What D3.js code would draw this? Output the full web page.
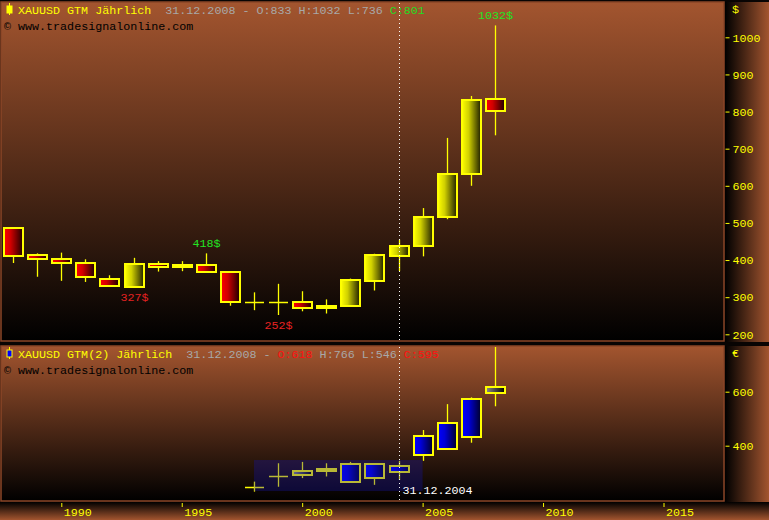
<!DOCTYPE html>
<html><head><meta charset="utf-8">
<script src="https://cdn.jsdelivr.net/npm/d3@7"></script>
<style>html,body{margin:0;padding:0;background:#000;overflow:hidden}</style>
</head><body><svg id="c" width="769" height="520"></svg>
<script>
// ---- data (top: XAUUSD in USD, yearly) ----
const years    = [1988,1989,1990,1991,1992,1993,1994,1995,1996,1997,1998,1999,2000,2001,2002,2003,2004,2005,2006,2007,2008];
const topOpen  = [485, 413, 402, 391, 350, 328, 389, 382, 387, 367, 288, 288, 287, 271, 277, 343, 412, 437, 515, 633, 833];
const topHigh  = [486, 418, 420, 402, 359, 406, 397, 397, 418, 369, 313, 336, 316, 294, 350, 417, 455, 540, 729, 842, 1032];
const topLow   = [392, 355, 344, 341, 328, 327, 369, 370, 366, 277, 265, 252, 262, 256, 277, 318, 370, 410, 510, 600, 736];
const topClose = [410, 402, 391, 353, 331, 389, 380, 387, 367, 288, 288, 288, 272, 277, 345, 414, 437, 515, 633, 832, 801];
// ---- data (bottom: XAUUSD GTM(2) in EUR) ----
const botYears = [1998,1999,2000,2001,2002,2003,2004,2005,2006,2007,2008];
const botOpen  = [248, 287, 306, 312, 267, 279, 304, 367, 389, 433, 618];
const botHigh  = [267, 335, 340, 335, 340, 335, 344, 458, 554, 579, 766];
const botLow   = [230, 248, 280, 286, 262, 255, 273, 344, 389, 411, 546];
const botClose = [248, 287, 290, 305, 331, 331, 324, 435, 483, 572, 595];
// ---- ticks / annotations ----
const topTicks = [200,300,400,500,600,700,800,900,1000];
const botTicks = [400,600];
const xTicks   = [1990,1995,2000,2005,2010,2015];
const annYears = [1996,1993,1999,2008];
const annTypes = ["high","low","low","high"];
const markerYear = 2004, markerLabel = "31.12.2004";
const selYears = [1998,2005], selValues = [232,347];

const svg = d3.select("#c");
const FONT = "'Liberation Mono','DejaVu Sans Mono',monospace";
const FS = "11.7px";
const BROWN = "#a3552f", YEL = "#ffff00";

const defs = svg.append("defs");
function grad(id, x2, y2, stops){
  const g = defs.append("linearGradient").attr("id",id).attr("x1",0).attr("y1",0).attr("x2",x2).attr("y2",y2);
  stops.forEach(s=>g.append("stop").attr("offset",s[0]).attr("stop-color",s[1]));
}
grad("panelG",0,1,[[0,BROWN],[1,"#000"]]);
grad("stripG",1,0,[[0,"#000"],[1,BROWN]]);
grad("baseG",0,1,[[0,"#000"],[1,BROWN]]);
grad("redG",1,0,[[0,"#ff0000"],[0.35,"#d00000"],[1,"#1a0000"]]);
grad("yelG",1,0,[[0,"#ffff00"],[0.35,"#d0d000"],[1,"#1e1e00"]]);
grad("bluG",1,0,[[0,"#0000ff"],[0.35,"#0000d8"],[1,"#000028"]]);
grad("gryG",1,0,[[0,"#8a8a8a"],[0.35,"#5a5a5a"],[1,"#000"]]);

// layout
const L = 1, R = 724;
const topP = {y0:2, y1:341}, botP = {y0:346, y1:501};

svg.append("rect").attr("width",769).attr("height",520).attr("fill","#080403");
[topP, botP].forEach(p=>{
  svg.append("rect").attr("x",L).attr("y",p.y0).attr("width",R-L).attr("height",p.y1-p.y0)
    .attr("fill","url(#panelG)").attr("stroke","#8a4527").attr("stroke-width",1.5);
  svg.append("rect").attr("x",R+1).attr("y",p.y0).attr("width",769-R-1).attr("height",p.y1-p.y0+1)
    .attr("fill","url(#stripG)");
});
svg.append("rect").attr("x",0).attr("y",502).attr("width",769).attr("height",18).attr("fill","url(#baseG)");

// scales
const x = d3.scaleLinear().domain([1990,2015]).range([61.3,663.5]);
const yTop = d3.scaleLinear().domain([200,1000]).range([334.3,37.3]);
const yBot = d3.scaleLinear().domain([400,600]).range([445.7,391.7]);

[["clipTop",topP],["clipBot",botP]].forEach(([id,p])=>{
  defs.append("clipPath").attr("id",id).append("rect").attr("x",L+1).attr("y",p.y0+1).attr("width",R-L-2).attr("height",p.y1-p.y0-2);
});

function candles(g, yrs, O, Hh, Lo, C, y, upFill, downFill){
  yrs.forEach((yr,i)=>{
    const cx = Math.round(x(yr)) + 0.5;
    g.append("line").attr("x1",cx).attr("x2",cx).attr("y1",y(Hh[i])).attr("y2",y(Lo[i]))
      .attr("stroke",YEL).attr("stroke-width",1.3);
    if (O[i] === C[i]) {
      const yy = Math.round(y(O[i]))+0.5;
      g.append("line").attr("x1",cx-9.5).attr("x2",cx+9.5).attr("y1",yy).attr("y2",yy)
        .attr("stroke",YEL).attr("stroke-width",1.5);
    } else {
      const t = Math.round(y(Math.max(O[i],C[i]))), b = Math.round(y(Math.min(O[i],C[i])));
      g.append("rect").attr("x",cx-9.5).attr("y",t).attr("width",19).attr("height",Math.max(b-t,1))
        .attr("fill", C[i] > O[i] ? upFill : downFill)
        .attr("stroke",YEL).attr("stroke-width",2);
    }
  });
}

const gTop = svg.append("g").attr("clip-path","url(#clipTop)");
candles(gTop, years, topOpen, topHigh, topLow, topClose, yTop, "url(#yelG)", "url(#redG)");
const gBot = svg.append("g").attr("clip-path","url(#clipBot)");
candles(gBot, botYears, botOpen, botHigh, botLow, botClose, yBot, "url(#bluG)", "url(#gryG)");

gBot.append("rect").attr("x",x(selYears[0])).attr("y",yBot(selValues[1]))
  .attr("width",x(selYears[1])-x(selYears[0])).attr("height",yBot(selValues[0])-yBot(selValues[1]))
  .attr("fill","rgb(20,20,180)").attr("fill-opacity",0.3);

annYears.forEach((yr,k)=>{
  const i = years.indexOf(yr);
  const isHigh = annTypes[k]==="high";
  const v = isHigh ? topHigh[i] : topLow[i];
  gTop.append("text").attr("x",Math.round(x(yr))+0.5).attr("y", isHigh ? yTop(v)-6 : yTop(v)+14)
    .attr("text-anchor","middle").attr("font-family",FONT).attr("font-size",FS)
    .attr("fill", isHigh ? "#22e622" : "#e62222").text(v+"$");
});

const mx = Math.round(x(markerYear))+0.5;
[topP,botP].forEach(p=>{
  svg.append("line").attr("x1",mx).attr("x2",mx).attr("y1",p.y0+1).attr("y2",p.y1-1)
    .attr("stroke","#fff").attr("stroke-width",1).attr("stroke-dasharray","1,3");
});
svg.append("text").attr("x",mx+3).attr("y",494).attr("font-family",FONT).attr("font-size",FS)
  .attr("fill","#fff").text(markerLabel);

function styleAxis(g){
  g.select(".domain").remove();
  g.selectAll("line").attr("stroke",YEL);
  g.selectAll("text").attr("fill",YEL).attr("font-family",FONT).attr("font-size",FS);
}
const aTop = svg.append("g").attr("transform","translate(725.5,0)")
  .call(d3.axisRight(yTop).tickValues(topTicks).tickSize(4).tickPadding(3).tickFormat(d3.format("d")));
styleAxis(aTop);
const aBot = svg.append("g").attr("transform","translate(725.5,0)")
  .call(d3.axisRight(yBot).tickValues(botTicks).tickSize(4).tickPadding(3).tickFormat(d3.format("d")));
styleAxis(aBot);
const aX = svg.append("g").attr("transform","translate(0,503)")
  .call(d3.axisBottom(x).tickValues(xTicks).tickSize(4).tickPadding(1).tickFormat(d3.format("d")));
styleAxis(aX);
aX.selectAll("text").attr("text-anchor","start").attr("x",2);

svg.append("text").attr("x",732).attr("y",13).attr("font-family",FONT).attr("font-size",FS).attr("fill",YEL).text("$");
svg.append("text").attr("x",732).attr("y",357).attr("font-family",FONT).attr("font-size",FS).attr("fill",YEL).text("€");

function header(y0, icon, parts){
  const g = svg.append("g");
  g.append("line").attr("x1",9.5).attr("x2",9.5).attr("y1",y0-11).attr("y2",y0+1).attr("stroke",YEL).attr("stroke-width",1);
  g.append("rect").attr("x",7).attr("y",y0-8).attr("width",5).attr("height",7)
    .attr("fill",icon).attr("stroke",YEL).attr("stroke-width",1);
  const t = svg.append("text").attr("x",18).attr("y",y0).attr("font-family",FONT).attr("font-size",FS)
    .attr("xml:space","preserve");
  parts.forEach(p=>t.append("tspan").attr("fill",p[1]).text(p[0]));
  svg.append("text").attr("x",4).attr("y",y0+15.5).attr("font-family",FONT).attr("font-size",FS)
    .attr("fill","#000").text("© www.tradesignalonline.com");
}
const GR = "#a8a8a8";
header(14, YEL, [["XAUUSD GTM Jährlich",YEL],["  31.12.2008 - O:833 H:1032 L:736 ",GR],["C:801","#22dd22"]]);
header(358, "#0000ff", [["XAUUSD GTM(2) Jährlich",YEL],["  31.12.2008 - ",GR],["O:618","#ff1010"],[" H:766 L:546 ",GR],["C:595","#ff1010"]]);
</script>
</body></html>
